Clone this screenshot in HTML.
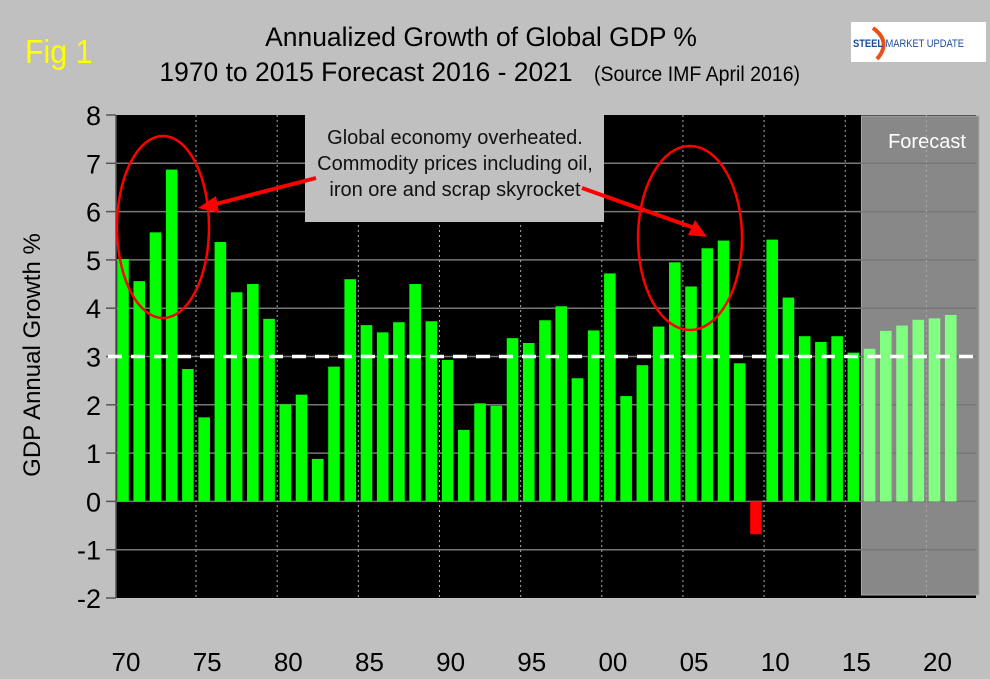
<!DOCTYPE html>
<html><head><meta charset="utf-8"><style>
body{margin:0;background:#c0c0c0;}
svg{display:block;font-family:"Liberation Sans",Arial,sans-serif;}
</style></head><body>
<svg id="chart" width="990" height="679" viewBox="0 0 990 679">
<rect x="0" y="0" width="990" height="679" fill="#c0c0c0"/>
<text x="25" y="63" font-size="33" fill="#ffff00" transform="translate(25 0) scale(0.92 1) translate(-25 0)">Fig 1</text>
<text x="481" y="46" font-size="27" text-anchor="middle" transform="translate(481 0) scale(0.98 1) translate(-481 0)">Annualized Growth of Global GDP %</text>
<text x="366" y="81" font-size="27" text-anchor="middle" transform="translate(366 0) scale(0.98 1) translate(-366 0)">1970 to 2015 Forecast 2016 - 2021</text>
<text x="697" y="81" font-size="21" text-anchor="middle" transform="translate(697 0) scale(0.93 1) translate(-697 0)">(Source IMF April 2016)</text>
<g>
<rect x="851" y="22" width="135" height="40" fill="#fff"/>
<path d="M873 28 Q892 42 877 59" stroke="#e8501a" stroke-width="4" fill="none"/>
<text x="853" y="47" font-size="11" font-weight="bold" fill="#1a4a9a" transform="translate(853 0) scale(0.85 1) translate(-853 0)">STEEL <tspan font-weight="normal">MARKET UPDATE</tspan></text>
</g>
<g id="plot"></g>
<text transform="translate(40 355) rotate(-90)" font-size="24" text-anchor="middle">GDP Annual Growth %</text>
</svg>
<script>
const years = ["70","71","72","73","74","75","76","77","78","79","80","81","82","83","84","85","86","87","88","89","90","91","92","93","94","95","96","97","98","99","00","01","02","03","04","05","06","07","08","09","10","11","12","13","14","15","16","17","18","19","20","21"];
const growth = [5.02,4.56,5.57,6.87,2.74,1.74,5.37,4.33,4.5,3.78,2.01,2.21,0.88,2.79,4.6,3.65,3.5,3.71,4.5,3.73,2.93,1.48,2.03,1.98,3.38,3.28,3.75,4.04,2.55,3.54,4.72,2.18,2.82,3.62,4.95,4.45,5.24,5.4,2.86,-0.68,5.42,4.22,3.42,3.3,3.42,3.08,3.16,3.53,3.64,3.76,3.79,3.86];
const isForecast = [0,0,0,0,0,0,0,0,0,0,0,0,0,0,0,0,0,0,0,0,0,0,0,0,0,0,0,0,0,0,0,0,0,0,0,0,0,0,0,0,0,0,0,0,0,0,1,1,1,1,1,1];
const yTicks = [8,7,6,5,4,3,2,1,0,-1,-2];
const xTickLabels = ["70","75","80","85","90","95","00","05","10","15","20"];
const refLine = 3;

const NS="http://www.w3.org/2000/svg";
const g=document.getElementById('plot');
const L=116,R=976,T=115,B=598,yMin=-2,yMax=8;
const y=v=>B-(v-yMin)/(yMax-yMin)*(B-T);
const step=16.23, x0=123;
const x=i=>x0+i*step;
function mk(tag,attrs,parent){const e=document.createElementNS(NS,tag);for(const k in attrs)e.setAttribute(k,attrs[k]);(parent||g).appendChild(e);return e;}

let e=mk('rect',{x:L,y:T,width:R-L,height:B-T,fill:'#000'});


const fi=isForecast.indexOf(1);
e=mk('rect',{x:x(fi)-step/2,y:T+1,width:R+3-(x(fi)-step/2),height:B-T-4,fill:'#888',stroke:'#aaa','stroke-width':1});


e=mk('text',{x:927,y:148,'font-size':20,fill:'#fff','text-anchor':'middle'});e.textContent='Forecast';


yTicks.forEach(v=>{
  if(v!==yMax&&v!==yMin){const l=mk('line',{x1:L,x2:R,y1:y(v),y2:y(v),stroke:'#777','stroke-width':1.5});
  
  }
  mk('line',{x1:L-10,x2:L,y1:y(v),y2:y(v),stroke:'#555','stroke-width':1.5});
  const t=mk('text',{x:101,y:y(v)+10,'font-size':27,'text-anchor':'end'});t.textContent=v;
  
  
});
mk('line',{x1:L,x2:L,y1:T,y2:B,stroke:'#555','stroke-width':1.5});
xTickLabels.forEach(lab=>{
  const i=years.indexOf(lab);
  if(i>0){const l=mk('line',{x1:x(i)-step/2,x2:x(i)-step/2,y1:T,y2:B,stroke:'#aaa','stroke-width':1,'stroke-dasharray':'2,3'});
  
  }
  const t=mk('text',{x:x(i)+3,y:671,'font-size':26,'text-anchor':'middle'});t.textContent=lab;
  
  
});
growth.forEach((v,i)=>{
  const top=Math.min(y(v),y(0)), h=Math.abs(y(v)-y(0));
  const b=mk('rect',{x:x(i)-5.8,y:top,width:11.6,height:h,fill: v<0?'#ff0000':(isForecast[i]?'#80ff80':'#00ff00')});
  
  
});
e=mk('line',{x1:L-8,x2:R+3,y1:y(refLine),y2:y(refLine),stroke:'#fff','stroke-width':3.5,'stroke-dasharray':'14,9'});


e=mk('rect',{x:305,y:113,width:299,height:109,fill:'#c0c0c0'});


["Global economy overheated.","Commodity prices including oil,","iron ore and scrap skyrocket"].forEach((s,k)=>{
  const t=mk('text',{x:455,y:144+k*26,'font-size':20,'text-anchor':'middle',fill:'#111'});t.textContent=s;
  
  
});
e=mk('ellipse',{cx:163,cy:227,rx:46,ry:91,fill:'none',stroke:'#f00','stroke-width':2.5});


e=mk('ellipse',{cx:690,cy:238,rx:52,ry:92,fill:'none',stroke:'#f00','stroke-width':2.5});


e=mk('line',{x1:316,y1:178,x2:212,y2:205,stroke:'#f00','stroke-width':4});


mk('polygon',{points:'198,208 216,196 219,213',fill:'#f00'});
e=mk('line',{x1:582,y1:188,x2:700,y2:230,stroke:'#f00','stroke-width':4});


mk('polygon',{points:'707,237 688,235 695,220',fill:'#f00'});
</script>
</body></html>
